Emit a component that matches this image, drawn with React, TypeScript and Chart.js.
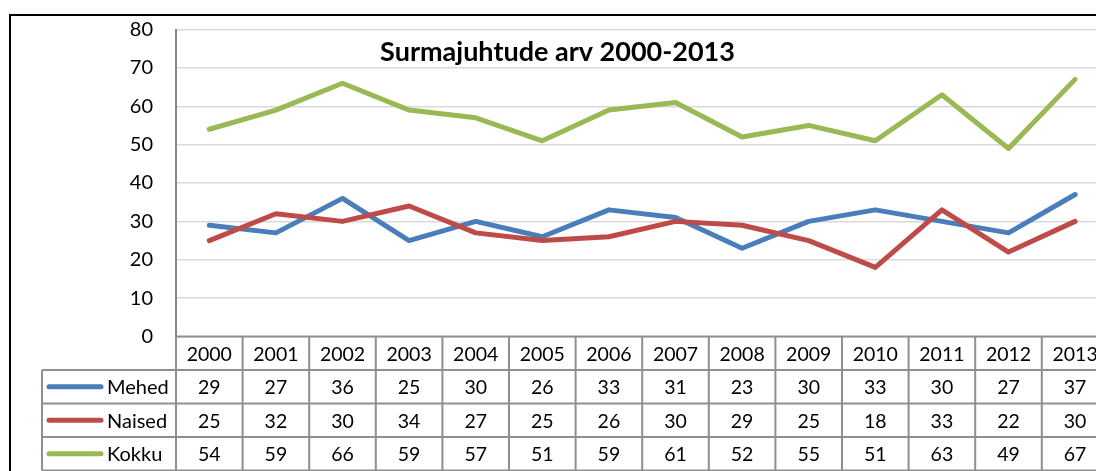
import React, { useEffect, useRef } from "react";
import { Chart, registerables } from "chart.js";

Chart.register(...registerables);

const years = ["2000","2001","2002","2003","2004","2005","2006","2007","2008","2009","2010","2011","2012","2013"];
const mehed = [29, 27, 36, 25, 30, 26, 33, 31, 23, 30, 33, 30, 27, 37];
const naised = [25, 32, 30, 34, 27, 25, 26, 30, 29, 25, 18, 33, 22, 30];
const kokku = [54, 59, 66, 59, 57, 51, 59, 61, 52, 55, 51, 63, 49, 67];
const seriesNames = ["Mehed", "Naised", "Kokku"];
const seriesColors = ["#4a7ebb", "#be4b48", "#98b954"];
const title = "Surmajuhtude arv 2000-2013";

const FONT = "Lato, 'Open Sans', sans-serif";
const FS = 19.5;

const tablePlugin = {
  id: "excelTable",
  beforeDraw(chart: any) {
    const ctx = chart.ctx;
    ctx.save();
    ctx.fillStyle = "#ffffff";
    ctx.fillRect(0, 0, chart.width, chart.height);
    ctx.restore();
  },
  afterDraw(chart: any) {
    const ctx = chart.ctx;
    const area = chart.chartArea;
    const xs = chart.scales.x;
    const n = years.length;
    const colW = (area.right - area.left) / n;
    const headerTop = area.bottom;
    const rowH = 33.5;
    const headerBottom = headerTop + rowH;
    const tableBottom = headerBottom + rowH * 3;
    const labelLeft = 42;
    ctx.save();
    ctx.strokeStyle = "#8f8f8f";
    ctx.lineWidth = 2;
    ctx.beginPath();
    ctx.moveTo(area.left, headerTop);
    ctx.lineTo(area.right, headerTop);
    for (let r = 0; r <= 3; r++) {
      const y = headerBottom + r * rowH;
      ctx.moveTo(labelLeft, y);
      ctx.lineTo(area.right, y);
    }
    for (let i = 0; i <= n; i++) {
      const x = area.left + i * colW;
      ctx.moveTo(x, headerTop);
      ctx.lineTo(x, tableBottom);
    }
    ctx.moveTo(labelLeft, headerBottom);
    ctx.lineTo(labelLeft, tableBottom);
    ctx.stroke();

    ctx.fillStyle = "#000";
    ctx.font = `${FS}px ${FONT}`;
    ctx.textAlign = "center";
    ctx.textBaseline = "middle";
    years.forEach((y, i) => {
      ctx.fillText(y, xs.getPixelForValue(i), headerTop + rowH / 2 + 1);
    });
    chart.data.datasets.forEach((ds: any, r: number) => {
      const cy = headerBottom + r * rowH + rowH / 2 + 1;
      ds.data.forEach((v: number, i: number) => {
        ctx.fillText(String(v), xs.getPixelForValue(i), cy);
      });
      ctx.strokeStyle = ds.borderColor;
      ctx.lineWidth = 5;
      ctx.lineCap = "round";
      ctx.beginPath();
      ctx.moveTo(49, cy - 1);
      ctx.lineTo(101, cy - 1);
      ctx.stroke();
      ctx.textAlign = "left";
      ctx.font = `20px ${FONT}`;
      ctx.fillText(ds.label, 107, cy);
      ctx.font = `${FS}px ${FONT}`;
      ctx.textAlign = "center";
    });

    ctx.font = `bold 27px ${FONT}`;
    ctx.textAlign = "center";
    ctx.textBaseline = "alphabetic";
    ctx.fillText(title, 557.5, 61);

    ctx.strokeStyle = "#000";
    ctx.lineWidth = 2;
    ctx.strokeRect(10, 15, chart.width + 20, chart.height + 20);
    ctx.restore();
  },
};

export default function App() {
  const ref = useRef<HTMLCanvasElement>(null);
  useEffect(() => {
    if (!ref.current) return;
    const values = [mehed, naised, kokku];
    const chart = new Chart(ref.current, {
      type: "line",
      data: {
        labels: years,
        datasets: values.map((d, i) => ({
          label: seriesNames[i],
          data: d,
          borderColor: seriesColors[i],
          backgroundColor: seriesColors[i],
          borderWidth: 5,
          pointRadius: 0,
          tension: 0,
          borderCapStyle: "round" as const,
          borderJoinStyle: "round" as const,
          order: i === 0 ? 1 : i === 1 ? 0 : 2,
        })),
      },
      options: {
        animation: false,
        responsive: false,
        devicePixelRatio: 1,
        layout: { padding: { left: 0, top: 29.5, right: 21.6, bottom: 183.5 } },
        plugins: {
          legend: { display: false },
          title: { display: false },
          tooltip: { enabled: false },
        },
        scales: {
          x: {
            type: "category",
            display: false,
            offset: true,
          },
          y: {
            min: 0,
            max: 80,
            ticks: {
              stepSize: 10,
              padding: 23,
              color: "#000",
              font: { family: FONT, size: 20 },
            },
            grid: { color: "#d9d9d9", lineWidth: 1.5, drawTicks: false },
            border: { color: "#868686", width: 2 },
            afterFit: (s: any) => {
              s.width = 176;
              s.paddingTop = 0;
              s.paddingBottom = 0;
            },
          },
        },
      },
      plugins: [tablePlugin],
    });
    return () => chart.destroy();
  }, []);
  return (
    <div style={{ position: "fixed", left: 0, top: 0, width: 1096, height: 471, overflow: "hidden", background: "#fff" }}>
      <canvas ref={ref} width={1130} height={520} style={{ display: "block", width: 1130, height: 520 }} />
    </div>
  );
}
